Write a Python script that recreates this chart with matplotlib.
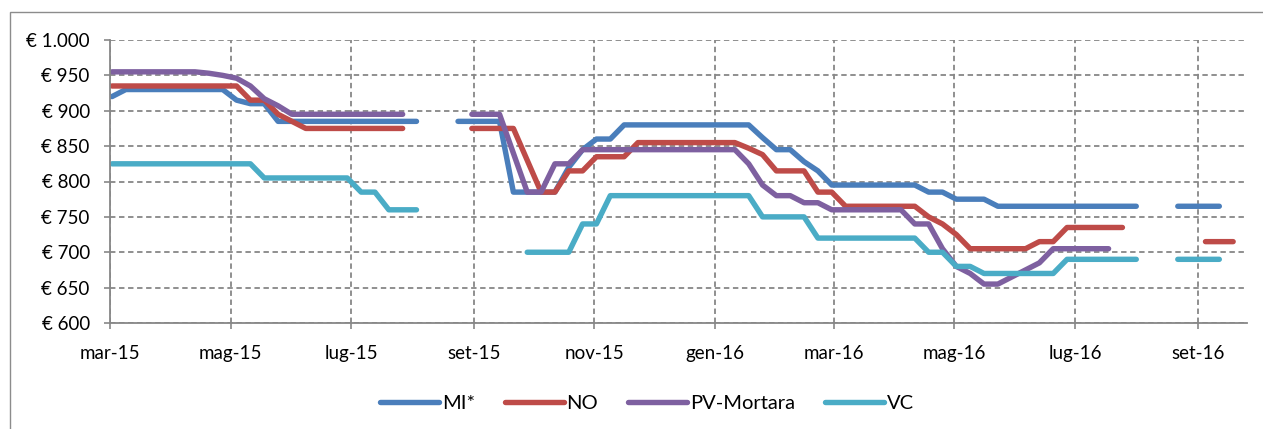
import numpy as np
import pandas as pd
import matplotlib
matplotlib.use("Agg")
import matplotlib.pyplot as plt
from matplotlib.patches import Rectangle

nan = np.nan

# Weekly price quotations (EUR per tonne)
weeks = pd.date_range("2015-03-02", periods=82, freq="7D")

mi = [920, 930, 930, 930, 930, 930, 930, 930, 930, 915,
      910, 910, 885, 885, 885, 885, 885, 885, 885, 885,
      885, 885, 885, nan, nan, 885, 885, 885, 885, 785,
      785, 785, 785, 820, 845, 860, 860, 880, 880, 880,
      880, 880, 880, 880, 880, 880, 880, 862, 845, 845,
      828, 815, 795, 795, 795, 795, 795, 795, 795, 785,
      785, 775, 775, 775, 765, 765, 765, 765, 765, 765,
      765, 765, 765, 765, 765, nan, nan, 765, 765, 765,
      765, nan]

no = [935, 935, 935, 935, 935, 935, 935, 935, 935, 935,
      915, 915, 895, 885, 875, 875, 875, 875, 875, 875,
      875, 875, nan, nan, nan, nan, 875, 875, 875, 875,
      830, 785, 785, 815, 815, 835, 835, 835, 855, 855,
      855, 855, 855, 855, 855, 855, 847, 838, 815, 815,
      815, 785, 785, 765, 765, 765, 765, 765, 765, 750,
      740, 725, 705, 705, 705, 705, 705, 715, 715, 735,
      735, 735, 735, 735, nan, nan, nan, nan, nan, 715,
      715, 715]

pv = [955, 955, 955, 955, 955, 955, 955, 953, 950, 946,
      935, 917, 907, 895, 895, 895, 895, 895, 895, 895,
      895, 895, nan, nan, nan, nan, 895, 895, 895, 840,
      785, 785, 825, 825, 845, 845, 845, 845, 845, 845,
      845, 845, 845, 845, 845, 845, 825, 795, 780, 780,
      770, 770, 760, 760, 760, 760, 760, 760, 740, 740,
      705, 680, 670, 655, 655, 665, 675, 685, 705, 705,
      705, 705, 705, nan, nan, nan, nan, nan, nan, nan,
      nan, nan]

vc = [825, 825, 825, 825, 825, 825, 825, 825, 825, 825,
      825, 805, 805, 805, 805, 805, 805, 805, 785, 785,
      760, 760, 760, nan, nan, nan, nan, nan, nan, nan,
      700, 700, 700, 700, 740, 740, 780, 780, 780, 780,
      780, 780, 780, 780, 780, 780, 780, 750, 750, 750,
      750, 720, 720, 720, 720, 720, 720, 720, 720, 700,
      700, 680, 680, 670, 670, 670, 670, 670, 670, 690,
      690, 690, 690, 690, 690, nan, nan, 690, 690, 690,
      690, nan]

series_names = ["MI*", "NO", "PV-Mortara", "VC"]
series_values = [mi, no, pv, vc]
series_colors = ["#4A7EBB", "#BE4B48", "#7E60A0", "#4AACC6"]

tick_dates = pd.to_datetime(["2015-03-01", "2015-05-01", "2015-07-01", "2015-09-01",
                             "2015-11-01", "2016-01-01", "2016-03-01", "2016-05-01",
                             "2016-07-01", "2016-09-01"])
tick_labels = ["mar-15", "mag-15", "lug-15", "set-15", "nov-15",
               "gen-16", "mar-16", "mag-16", "lug-16", "set-16"]
y_ticks = [600, 650, 700, 750, 800, 850, 900, 950, 1000]
y_labels = ["€ 600", "€ 650", "€ 700", "€ 750", "€ 800",
            "€ 850", "€ 900", "€ 950", "€ 1.000"]

plt.rcParams["font.family"] = ["Lato", "DejaVu Sans"]

W, H = 1263, 429
fig = plt.figure(figsize=(W / 100, H / 100), dpi=100)
fig.patch.set_facecolor("white")

# chart frame
fig.add_artist(Rectangle((9.5 / W, -0.05), 1.2, 1 - 11.5 / H + 0.05,
                         transform=fig.transFigure, fill=False,
                         edgecolor="#8c8c8c", linewidth=1.0))

ax = fig.add_axes([110 / W, 1 - 323 / H, 1137 / W, 283 / H])

for name, vals, col in zip(series_names, series_values, series_colors):
    ax.plot(weeks, vals, color=col, linewidth=3.9, label=name,
            solid_capstyle="round", solid_joinstyle="round")

ax.set_xlim(pd.Timestamp("2015-03-01"), pd.Timestamp("2016-09-26"))
ax.set_ylim(600, 1000)
ax.set_xticks(tick_dates)
ax.set_xticklabels(tick_labels)
ax.set_yticks(y_ticks)
ax.set_yticklabels(y_labels)

grid_kw = dict(color="#878787", linewidth=1.3, linestyle=(0, (3.0, 2.0)))
ax.grid(True, axis="both", **grid_kw)
ax.set_axisbelow(True)

for s in ["top", "right"]:
    ax.spines[s].set_visible(False)
for s in ["left", "bottom"]:
    ax.spines[s].set_color("#878787")
    ax.spines[s].set_linewidth(1.3)

ax.tick_params(axis="y", direction="out", length=4.5, width=1.2, color="#878787",
               pad=10, labelsize=13.5, labelcolor="black")
ax.tick_params(axis="x", direction="out", length=4.5, width=1.2, color="#878787",
               pad=11, labelsize=13.5, labelcolor="black")

leg = fig.legend(loc="center", bbox_to_anchor=(647 / W, 1 - 403 / H), ncol=4,
                 frameon=False, fontsize=14.5, handlelength=2.9,
                 handletextpad=0.15, columnspacing=1.5)
for line in leg.get_lines():
    line.set_linewidth(3.9)
    line.set_solid_capstyle("round")

fig.savefig("out.png", dpi=100, facecolor="white")
